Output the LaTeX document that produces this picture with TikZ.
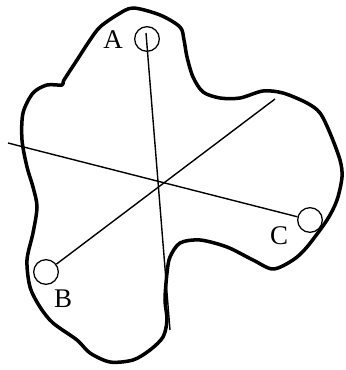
\documentclass[tikz,border=0pt]{standalone}
\usepackage{fontspec}
\setmainfont{Liberation Serif}
\begin{document}
\begin{tikzpicture}[x=0.03cm,y=-0.03cm,
    outline/.style={line width=3pt,line join=round,smooth cycle,tension=0.5},
    hole/.style={circle,draw,line width=1.1pt,minimum size=0.74cm,inner sep=0pt},
    axis/.style={line width=1.2pt},
    lbl/.style={font=\fontsize{23}{25}\selectfont,inner sep=0pt}]
  \useasboundingbox (0,0) rectangle (346,370);
  % rough outline of the plate
  \draw[outline] plot coordinates {(117,15) (133,8) (160,15) (180,27) (184,40)
    (187,57) (193,77) (203,92) (220,98) (240,98) (263,91) (283,93) (307,103)
    (320,113) (330,133) (340,160) (342,177) (337,200) (327,220) (307,247)
    (293,260) (273,269) (253,260) (227,247) (200,240) (180,243) (170,257)
    (167,273) (165,300) (167,320) (163,337) (150,350) (133,360) (110,362)
    (90,353) (77,340) (53,323) (40,307) (30,287) (27,260) (33,233) (37,207)
    (33,187) (27,167) (22,140) (23,113) (33,93) (47,85) (62,85) (64,80) (77,60)
    (90,40) (100,27)};
  % suspension points
  \node[hole] (A) at (147,39) {};
  \node[hole] (B) at (46,272) {};
  \node[hole] (C) at (310,220) {};
  \node[lbl] (lA) at (113,40) {A};
  \node[lbl] (lB) at (63,299) {B};
  \node[lbl] (lC) at (279,236) {C};
  % plumb lines
  \coordinate (aTop) at (146,33);
  \coordinate (aEnd) at (170,330);
  \coordinate (bEnd) at (275,99);
  \coordinate (cEnd) at (8,143);
  \draw[axis] (aTop) -- (aEnd);
  \draw[axis] (B) -- (bEnd);
  \draw[axis] (C) -- (cEnd);
\end{tikzpicture}
\end{document}
